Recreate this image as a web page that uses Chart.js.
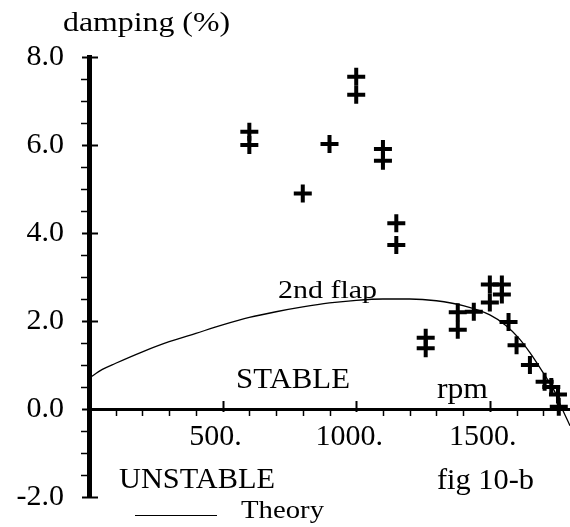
<!DOCTYPE html>
<html><head><meta charset="utf-8">
<script src="https://cdn.jsdelivr.net/npm/chart.js@4.4.1/dist/chart.umd.min.js"></script>
<style>html,body{margin:0;padding:0;background:#fff;}canvas{display:block;}</style>
</head><body>
<canvas id="c" width="570" height="527" style="width:570px;height:527px"></canvas>
<script>
// Theory curve (2nd flap)
const theoryRpm     = [0, 50, 100, 200, 300, 400, 500, 600, 700, 800, 900, 1000, 1100, 1200, 1300, 1400, 1500, 1560, 1610, 1650, 1700, 1740, 1765, 1800];
const theoryDamping = [0.70, 0.90, 1.04, 1.30, 1.53, 1.72, 1.91, 2.08, 2.21, 2.32, 2.41, 2.47, 2.50, 2.50, 2.46, 2.35, 2.14, 1.90, 1.60, 1.28, 0.82, 0.43, 0.08, -0.38];
// Test points
const testRpm     = [600, 600, 800, 900, 1000, 1000, 1100, 1100, 1150, 1150, 1260, 1260, 1380, 1380, 1440, 1500, 1500, 1545, 1545, 1570, 1600, 1650, 1705, 1730, 1755, 1758];
const testDamping = [6.30, 6.00, 4.90, 6.02, 7.55, 7.14, 5.91, 5.64, 4.22, 3.73, 1.62, 1.38, 2.20, 1.80, 2.21, 2.83, 2.42, 2.83, 2.60, 1.98, 1.45, 1.00, 0.62, 0.50, 0.33, 0.05];
// Axis ticks
const xTickValues = [500, 1000, 1500];
const xTickLabels = ['500.', '1000.', '1500.'];
const yTickValues = [-2, 0, 2, 4, 6, 8];
const yTickLabels = ['-2.0', '0.0', '2.0', '4.0', '6.0', '8.0'];

const FONT = '"Liberation Serif", "Times New Roman", serif';

function drawText(ctx, s, x, y, size, w) {
  ctx.save();
  ctx.font = size + 'px ' + FONT;
  ctx.textAlign = 'left';
  ctx.textBaseline = 'alphabetic';
  ctx.fillStyle = '#000';
  const m = ctx.measureText(s).width;
  ctx.translate(x, y);
  ctx.scale(w / m, 1);
  ctx.fillText(s, 0, 0);
  ctx.restore();
}

const decor = {
  id: 'decor',
  afterDraw(chart) {
    const ctx = chart.ctx;
    const xs = chart.scales.x, ys = chart.scales.y;
    const ax = chart.chartArea.left;
    const y0 = ys.getPixelForValue(0);
    ctx.save();
    ctx.strokeStyle = '#000';
    // y ticks
    for (let v = -2; v <= 8.001; v += 0.5) {
      const py = Math.round(ys.getPixelForValue(v)) + 0.5;
      ctx.beginPath();
      if (Math.abs(v % 2) < 1e-6) { ctx.lineWidth = 2; ctx.moveTo(ax - 7, py); ctx.lineTo(ax + 9, py); }
      else { ctx.lineWidth = 1.5; ctx.moveTo(ax - 8, py); ctx.lineTo(ax, py); }
      ctx.stroke();
    }
    // x ticks
    for (let v = 100; v <= 1700; v += 100) {
      const px = Math.round(xs.getPixelForValue(v)) + 0.5;
      ctx.beginPath();
      if (v % 500 === 0) { ctx.lineWidth = 2; ctx.moveTo(px, y0 - 8); ctx.lineTo(px, y0 + 3); }
      else { ctx.lineWidth = 1.5; ctx.moveTo(px, y0); ctx.lineTo(px, y0 + 7); }
      ctx.stroke();
    }
    // legend line
    ctx.lineWidth = 1.2;
    ctx.beginPath(); ctx.moveTo(135, 515.5); ctx.lineTo(217, 515.5); ctx.stroke();
    ctx.restore();
    drawText(ctx, 'damping (%)', 63, 31, 27, 167);
    drawText(ctx, '2nd flap', 278, 298, 25, 99);
    drawText(ctx, 'STABLE', 236, 388, 30, 114);
    drawText(ctx, 'rpm', 437, 398, 29, 51);
    drawText(ctx, 'UNSTABLE', 119, 488, 29, 156);
    drawText(ctx, 'fig 10-b', 437, 489, 30, 97);
    drawText(ctx, 'Theory', 241, 518, 25, 83);
  }
};

new Chart(document.getElementById('c'), {
  type: 'scatter',
  data: {
    datasets: [
      {
        label: 'Theory',
        data: theoryRpm.map((r, i) => ({x: r, y: theoryDamping[i]})),
        showLine: true,
        borderColor: '#000',
        borderWidth: 1.3,
        pointRadius: 0,
        cubicInterpolationMode: 'monotone'
      },
      {
        label: 'Test',
        data: testRpm.map((r, i) => ({x: r, y: testDamping[i]})),
        showLine: false,
        pointStyle: 'cross',
        pointRadius: 9,
        pointBorderWidth: 4,
        borderColor: '#000',
        backgroundColor: '#000',
        clip: false
      }
    ]
  },
  options: {
    responsive: false,
    animation: false,
    events: [],
    layout: {autoPadding: false, padding: {top: 57, bottom: 30, left: 0, right: 0}},
    plugins: {legend: {display: false}, tooltip: {enabled: false}, title: {display: false}},
    scales: {
      x: {
        type: 'linear',
        min: 0, max: 1800,
        position: {y: 0},
        afterBuildTicks: s => { s.ticks = xTickValues.map(v => ({value: v})); },
        afterFit: s => { s.height = 0; s.paddingLeft = 0; s.paddingRight = 0; s.paddingTop = 0; s.paddingBottom = 0; },
        ticks: {
          callback: v => xTickLabels[xTickValues.indexOf(v)],
          color: '#000',
          font: {family: FONT, size: 30, lineHeight: 1},
          padding: 13,
          labelOffset: -7,
          autoSkip: false,
          maxRotation: 0, minRotation: 0
        },
        grid: {display: false, drawTicks: false},
        border: {display: true, color: '#000', width: 3}
      },
      y: {
        type: 'linear',
        min: -2, max: 8,
        position: 'left',
        afterBuildTicks: s => { s.ticks = yTickValues.map(v => ({value: v})); },
        afterFit: s => { s.width = 89; s.paddingTop = 0; s.paddingBottom = 0; },
        ticks: {
          callback: v => yTickLabels[yTickValues.indexOf(v)],
          color: '#000',
          font: {family: FONT, size: 30, lineHeight: 1},
          padding: 25,
          autoSkip: false
        },
        grid: {display: false, drawTicks: false},
        border: {display: true, color: '#000', width: 5}
      }
    }
  },
  plugins: [decor]
});
</script>
</body></html>
